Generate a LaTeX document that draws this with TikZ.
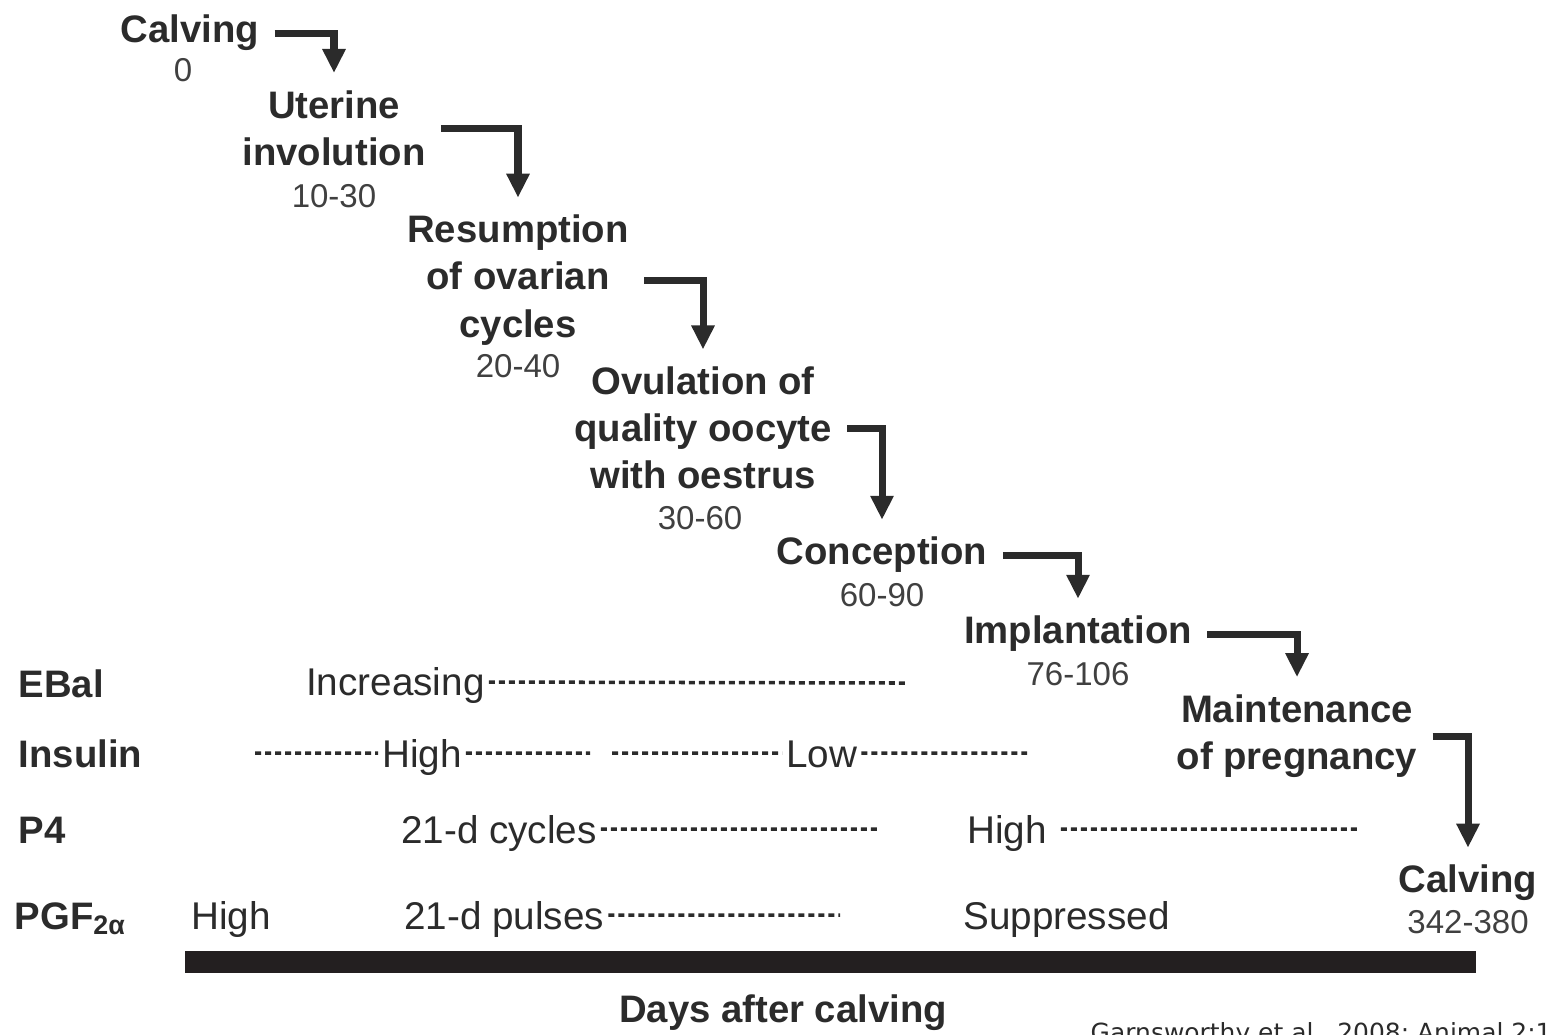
\documentclass[tikz,border=0pt]{standalone}
\usepackage{fontspec}
\setmainfont{Liberation Sans}
\newfontfamily\citefont{DejaVu Sans}
\usepackage{xcolor}
\usepackage{tikz}
\usetikzlibrary{arrows.meta}
\definecolor{ink}{HTML}{2B2B2B}
\definecolor{barblack}{HTML}{231F20}
\tikzset{stage/.style={align=center, text=ink, font=\bfseries\fontsize{10.9}{13.4}\selectfont},
	days/.style={text=ink!90, font=\fontsize{9.4}{11}\selectfont},
	rowlab/.style={anchor=base west, inner sep=0pt, text=ink, font=\bfseries\fontsize{10.9}{13}\selectfont},
	level/.style={anchor=base west, inner sep=1pt, text=ink, font=\fontsize{11}{13}\selectfont},
	trend/.style={draw=ink, line width=1pt, dash pattern=on 0.6mm off 0.4mm},
	turn/.style={draw=ink, line width=2pt, -{Triangle[width=2.2mm,length=2.4mm]},
		shorten <=0.3mm, shorten >=0.5mm}}

\begin{document}
\begin{tikzpicture}
    [x=0.1mm, y=-0.1mm]
    \useasboundingbox (0,0) rectangle (1550,1034);
    % stages after calving
    \node[stage] (calv0) at (190,33){Calving};
    \node[stage] (uter) at (334,128){Uterine\\involution};
    \node[stage] (resum) at (518,280){Resumption\\of ovarian\\cycles};
    \node[stage] (ovul) at (703,428){Ovulation of\\quality oocyte\\with oestrus};
    \node[stage] (conc) at (882,555){Conception};
    \node[stage] (impl) at (1078,634){Implantation};
    \node[stage] (maint) at (1297,736){Maintenance\\of pregnancy};
    \node[stage] (calv1) at (1468,883){Calving};
    \node[days] (calv0d) at (183,70){0};
    \node[days] (uterd) at (334,196){10-30};
    \node[days] (resumd) at (518,366){20-40};
    \node[days] (ovuld) at (700,518){30-60};
    \node[days] (concd) at (882,595){60-90};
    \node[days] (impld) at (1078,674){76-106};
    \node[days] (calv1d) at (1468,922){342-380};
    \draw[turn] (calv0.east) -| (uter.north);
    \draw[turn] (uter.east) -| (resum.north);
    \draw[turn] (resum.east) -| (ovul.north);
    \draw[turn] (ovul.east) -| (conc.north);
    \draw[turn] (conc.east) -| (impl.north);
    \draw[turn] (impl.east) -| (maint.north);
    \draw[turn] (maint.east) -| (calv1.north);
    % hormone rows
    \node[rowlab] (ebal) at (18,697){EBal};
    \node[rowlab] (ins) at (18,767){Insulin};
    \node[rowlab] (p4) at (18,843){P4};
    \node[rowlab] (pgf) at (14,929){PGF\textsubscript{2α}};
    \node[level] (incr) at (302,695){Increasing};
    \node[level] (inshigh) at (378,767){High};
    \node[level] (inslow) at (782,767){Low};
    \node[level] (cyc) at (397,843){21-d cycles};
    \node[level] (p4high) at (963,843){High};
    \node[level] (pgfhigh) at (187,929){High};
    \node[level] (puls) at (400,929){21-d pulses};
    \node[level] (supp) at (959,929){Suppressed};
    \coordinate (ebalR) at (905,683);
    \coordinate (insL) at (255,753);
    \coordinate (insM) at (590,753);
    \coordinate (insN) at (612,753);
    \coordinate (insR) at (1027,753);
    \coordinate (cycR) at (880,829);
    \coordinate (p4R) at (1360,829);
    \coordinate (pulsR) at (840,915);
    \draw[trend] ([yshift=1.3mm]incr.base east) -- (ebalR);
    \draw[trend] (insL) -- ([yshift=1.4mm]inshigh.base west);
    \draw[trend] ([yshift=1.4mm]inshigh.base east) -- (insM);
    \draw[trend] (insN) -- ([yshift=1.4mm]inslow.base west);
    \draw[trend] ([yshift=1.4mm]inslow.base east) -- (insR);
    \draw[trend] ([yshift=1.4mm]cyc.base east) -- (cycR);
    \draw[trend, shorten <=1mm] ([yshift=1.4mm]p4high.base east) -- (p4R);
    \draw[trend] ([yshift=1.4mm]puls.base east) -- (pulsR);
    % time axis
    \fill[barblack] (185,951) rectangle (1476,973);
    \node[stage] (axis) at (783,1013){Days after calving};
    \node[anchor=base west, inner sep=0pt, text=ink, font=\citefont\fontsize{7.1}{8}\selectfont]
        (cite) at (1090,1041){Garnsworthy et al., 2008; Animal 2:1144};
\end{tikzpicture}
\end{document}
